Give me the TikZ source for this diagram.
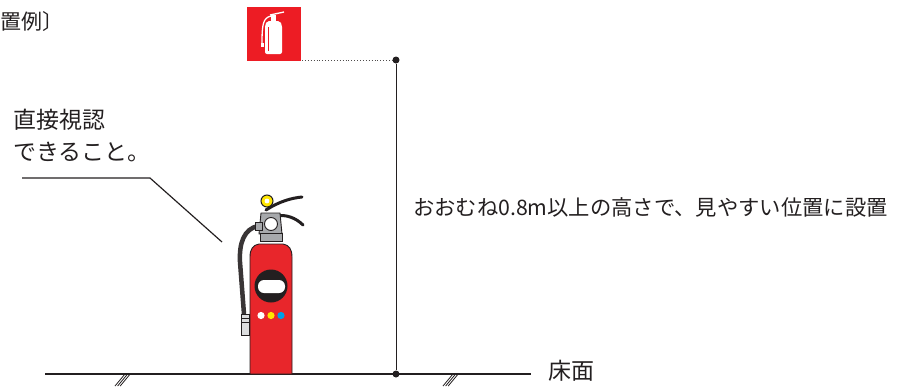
\documentclass[tikz,border=0pt]{standalone}
\usepackage{fontspec}
\setmainfont{Noto Sans CJK JP}
\definecolor{sign}{HTML}{ED1C24}
\definecolor{bodyred}{HTML}{E8262B}
\definecolor{ink}{HTML}{231F20}
\definecolor{metal}{HTML}{A7A9AC}
\definecolor{pinyellow}{HTML}{FFE600}
\definecolor{cyanblue}{HTML}{00A0E9}
\begin{document}
\begin{tikzpicture}[x=1pt,y=-1pt,
  label/.style={inner sep=0pt,font=\fontsize{23}{23}\selectfont,text=ink},
  note/.style={inner sep=0pt,font=\fontsize{21.3}{21.3}\selectfont,text=ink},
  dimline/.style={draw=ink,line width=1pt},
  dot/.style={circle,fill=ink,inner sep=0pt,minimum size=7pt},
  outline/.style={draw=ink,line width=0.9pt},
  hatch/.style={draw=ink,line width=0.8pt}]
\useasboundingbox (0,0) rectangle (897,386);

% title
\node[inner sep=0pt,font=\fontsize{21}{21}\selectfont,text=ink,anchor=base west] (title) at (0,29) {置例〕};

% fire-extinguisher sign
\node[fill=sign,minimum size=54pt,inner sep=0pt,anchor=north west] (sign) at (247,7) {};
\begin{scope}[white]
  \fill[rounded corners=2pt] (265,25) -- (267,21) -- (280,21) -- (282,25) -- (282,54) -- (265,54) -- cycle;
  \fill (271,15) rectangle (276,21);
  \draw[line width=1.3pt] (270,15) -- (284,12);
  \draw[line width=1.3pt] (271,16) .. controls (263,18) and (262,24) .. (262,44);
  \fill (261,43) rectangle (264,47);
\end{scope}
\draw[sign,line width=0.6pt] (268,27) -- (268,51);

% height dimension
\node[dot] (top) at (396,60) {};
\node[dot] (bottom) at (396,374) {};
\coordinate (signcorner) at (302,60);
\draw[ink!80,line width=0.9pt,dotted] (signcorner) -- (top);
\draw[dimline] (top) -- (bottom);
\node[note,anchor=base west] (height) at (413,215) {おおむね0.8m以上の高さで、見やすい位置に設置};

% floor
\coordinate (floorL) at (45,374);
\coordinate (floorR) at (531,374);
\draw[ink,line width=1.4pt] (floorL) -- (floorR);
\node[label,anchor=base west] (floor) at (548,379) {床面};
\foreach \d in {0,2.6,5.2}{
  \draw[hatch] (115+\d,386) -- (125+\d,374);
  \draw[hatch] (443+\d,386) -- (453+\d,374);
}

% leader label
\node[label,anchor=base west] (seeA) at (13,128) {直接視認};
\node[label,anchor=base west] (seeB) at (13,160) {できること。};
\coordinate (leadA) at (22,178);
\coordinate (leadB) at (150,178);
\coordinate (leadC) at (222,242);
\draw[ink,line width=1.2pt] (leadA) -- (leadB) -- (leadC);

% extinguisher: hose
\draw[ink!90,line width=4.5pt] (258,226) .. controls (244,229) and (239,243) .. (240,262) -- (244,314);
\draw[outline,fill=metal!40] (241,314) rectangle (249,335);
\draw[ink,line width=0.6pt] (241,318) -- (249,318) (241,322) -- (249,322);
% levers
\draw[ink,line width=3pt,line cap=round] (266,210) .. controls (280,201) and (292,198) .. (302,197);
\draw[ink,line width=3pt,line cap=round] (276,216) .. controls (286,214) and (296,218) .. (303,225);
% safety ring
\draw[ink,line width=1pt,fill=pinyellow] (267,201) circle (6);
\fill[white] (267,201) circle (2.4);
% valve head
\draw[outline,fill=metal] (261,213) -- (280,213) -- (282,234) -- (259,234) -- cycle;
\draw[outline,fill=white] (271,224) circle (6.5);
\draw[outline,fill=metal] (255,222) rectangle (262,230);
% collar
\draw[outline,fill=metal] (260,233) rectangle (282,241);
% body
\draw[outline,fill=bodyred] (250,374) -- (250,257) .. controls (250,249) and (253,245) .. (259,244)
  -- (283,244) .. controls (289,245) and (292,249) .. (292,257) -- (292,374) -- cycle;
% label disc
\fill[ink] (271,286) circle (16.5);
\fill[white,rounded corners=6pt] (258,280) rectangle (285,293);
\fill[white] (261,315.5) circle (3.6);
\fill[pinyellow] (271,315.5) circle (3.6);
\fill[cyanblue] (281,315.5) circle (3.6);
\end{tikzpicture}
\end{document}
